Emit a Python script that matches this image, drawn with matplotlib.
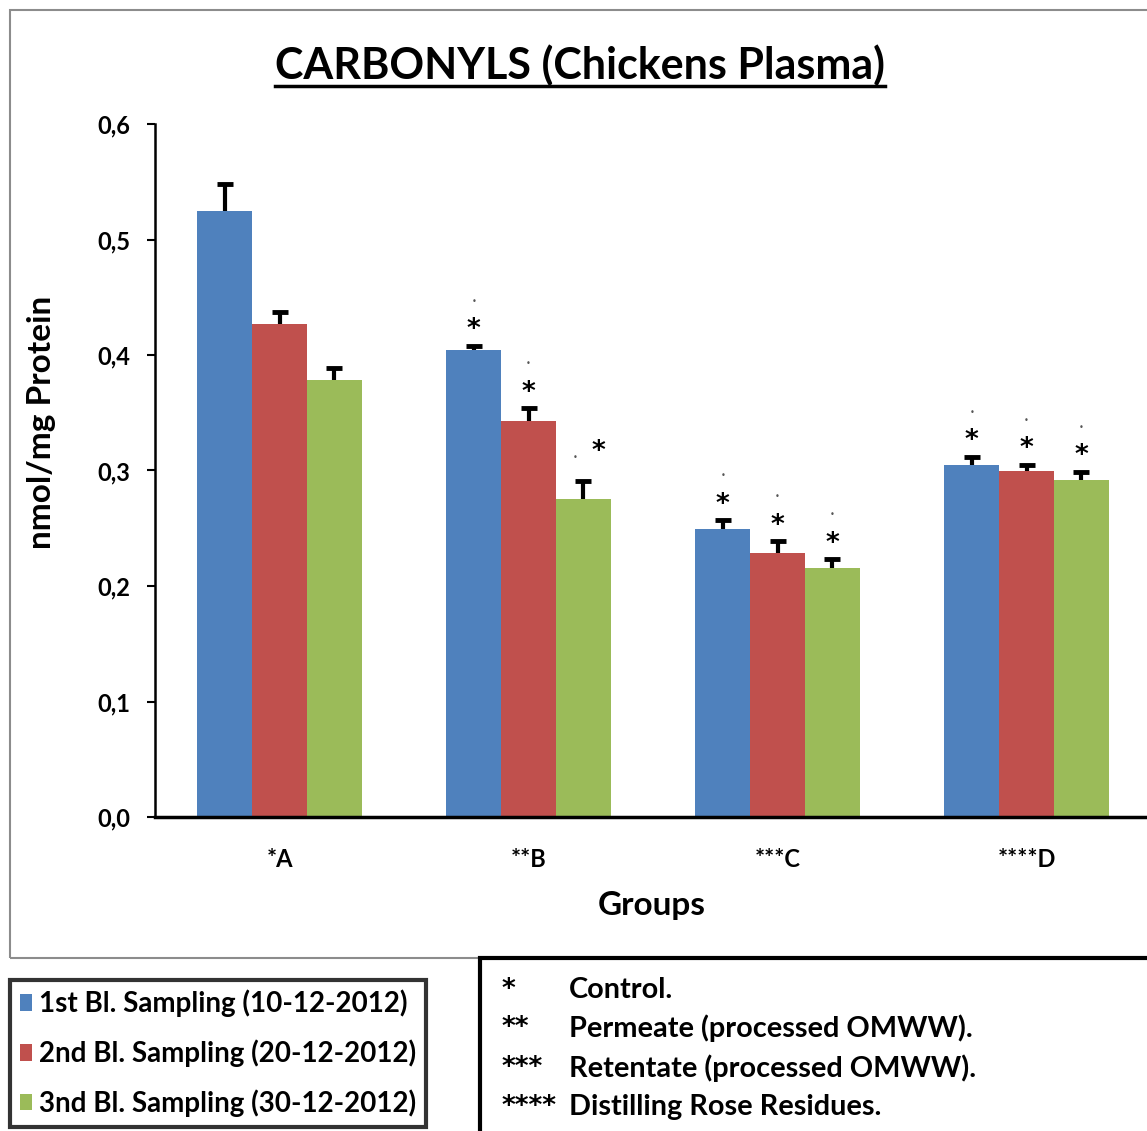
import numpy as np
import matplotlib.pyplot as plt
from matplotlib.patches import Rectangle

plt.rcParams['font.family'] = ['Lato', 'DejaVu Sans']

groups = ["*A", "**B", "***C", "****D"]
series = ["1st Bl. Sampling (10-12-2012)",
          "2nd Bl. Sampling (20-12-2012)",
          "3nd Bl. Sampling (30-12-2012)"]
colors = ["#4f81bd", "#c0504d", "#9bbb59"]

# rows = sampling, cols = groups
values = [[0.525, 0.404, 0.249, 0.305],
          [0.427, 0.343, 0.229, 0.300],
          [0.378, 0.275, 0.216, 0.292]]
errors = [[0.023, 0.004, 0.008, 0.007],
          [0.010, 0.011, 0.010, 0.005],
          [0.011, 0.016, 0.007, 0.007]]
# significance marks (*) above bars
signif = [[False, True, True, True],
          [False, True, True, True],
          [False, True, True, True]]

notes_keys = ["*", "**", "***", "****"]
notes_text = ["Control.", "Permeate (processed OMWW).",
              "Retentate (processed OMWW).", "Distilling Rose Residues."]

W, H = 1147, 1131
fig = plt.figure(figsize=(W / 100, H / 100), dpi=100)

def fx(px):
    return px / W

def fy(py):
    return 1 - py / H

# outer chart frame
fig.patches.append(Rectangle((fx(10), fy(958)), fx(1150) - fx(10), fy(10) - fy(958),
                             transform=fig.transFigure, fill=False,
                             edgecolor="#8c8c8c", lw=1.5))

ax = fig.add_axes([fx(155), fy(817), fx(1151) - fx(155), fy(124) - fy(817)])

x = np.arange(len(groups))
width = 0.22
offsets = [-width, 0, width]
bars = []
for i in range(3):
    xs = x + offsets[i]
    vals = np.array(values[i])
    tops = vals + np.array(errors[i])
    b = ax.bar(xs, vals, width, color=colors[i], label=series[i], zorder=2)
    bars.append(b)
    # upper-only error bars with a T cap
    ax.vlines(xs, vals, tops, color="black", lw=3, zorder=3)
    ax.plot(xs, tops, ls="none", marker="_", ms=12, mew=3.5, color="black", zorder=3)
    for j in range(len(groups)):
        if not signif[i][j]:
            continue
        if i == 2 and j == 1:
            star_off, dot_off = (11, 16), (-6, 17)
        else:
            star_off, dot_off = (0, 6), (0, 32)
        ax.annotate("*", (xs[j], tops[j]), xytext=star_off,
                    textcoords="offset points", ha="center", va="baseline",
                    fontsize=19, fontweight="bold", family="DejaVu Sans")
        ax.annotate("•", (xs[j], tops[j]), xytext=dot_off,
                    textcoords="offset points", ha="center", va="center",
                    fontsize=6, color="#555555", family="DejaVu Sans")

ax.set_xlim(-0.5, 3.5)
ax.set_ylim(0, 0.6)
ax.set_yticks(np.arange(0, 0.61, 0.1))
ax.set_yticklabels([f"{v:.1f}".replace(".", ",") for v in np.arange(0, 0.61, 0.1)],
                   fontsize=17, fontweight="bold")
ax.set_xticks(x)
ax.set_xticklabels(groups, fontsize=17, fontweight="bold")
ax.tick_params(axis="x", length=0, pad=22)
ax.tick_params(axis="y", length=6, width=1.5, pad=12)
for s in ["top", "right"]:
    ax.spines[s].set_visible(False)
ax.spines["left"].set_linewidth(1.8)
ax.spines["bottom"].set_linewidth(2.5)

ax.set_xlabel("Groups", fontsize=24, fontweight="bold")
ax.set_ylabel("nmol/mg Protein", fontsize=24, fontweight="bold")
ax.xaxis.set_label_coords((652 - 155) / (1151 - 155), -(906 - 817) / (817 - 124))
ax.yaxis.set_label_coords((42 - 155) / (1151 - 155), (817 - 422) / (817 - 124))
ax.xaxis.label.set_va("center")
ax.yaxis.label.set_va("center")

fig.text(fx(580), fy(79), "CARBONYLS (Chickens Plasma)", ha="center", va="baseline",
         fontsize=31, fontweight="bold")
fig.add_artist(plt.Line2D([fx(275), fx(885)], [fy(86), fy(86)], color="black", lw=2.5))

leg = fig.legend(handles=bars, labels=series, loc="upper left",
                 bbox_to_anchor=(fx(10), fy(980)),
                 prop=dict(weight="bold", size=20), frameon=True, fancybox=False,
                 handlelength=0.45, handleheight=0.55, handletextpad=0.25,
                 labelspacing=0.8, borderpad=0.35, borderaxespad=0)
leg.get_frame().set_edgecolor("black")
leg.get_frame().set_linewidth(3)

fig.patches.append(Rectangle((fx(480), fy(1140)), fx(1160) - fx(480), fy(958) - fy(1140),
                             transform=fig.transFigure, facecolor="white",
                             edgecolor="black", lw=3))
ys = [990, 1028, 1068, 1107]
for k, t, yy in zip(notes_keys, notes_text, ys):
    fig.text(fx(502), fy(yy), k, ha="left", va="center", fontsize=19,
             fontweight="bold", family="DejaVu Sans")
    fig.text(fx(569), fy(yy), t, ha="left", va="center", fontsize=20.8, fontweight="bold")

fig.savefig("out.png", dpi=100)
